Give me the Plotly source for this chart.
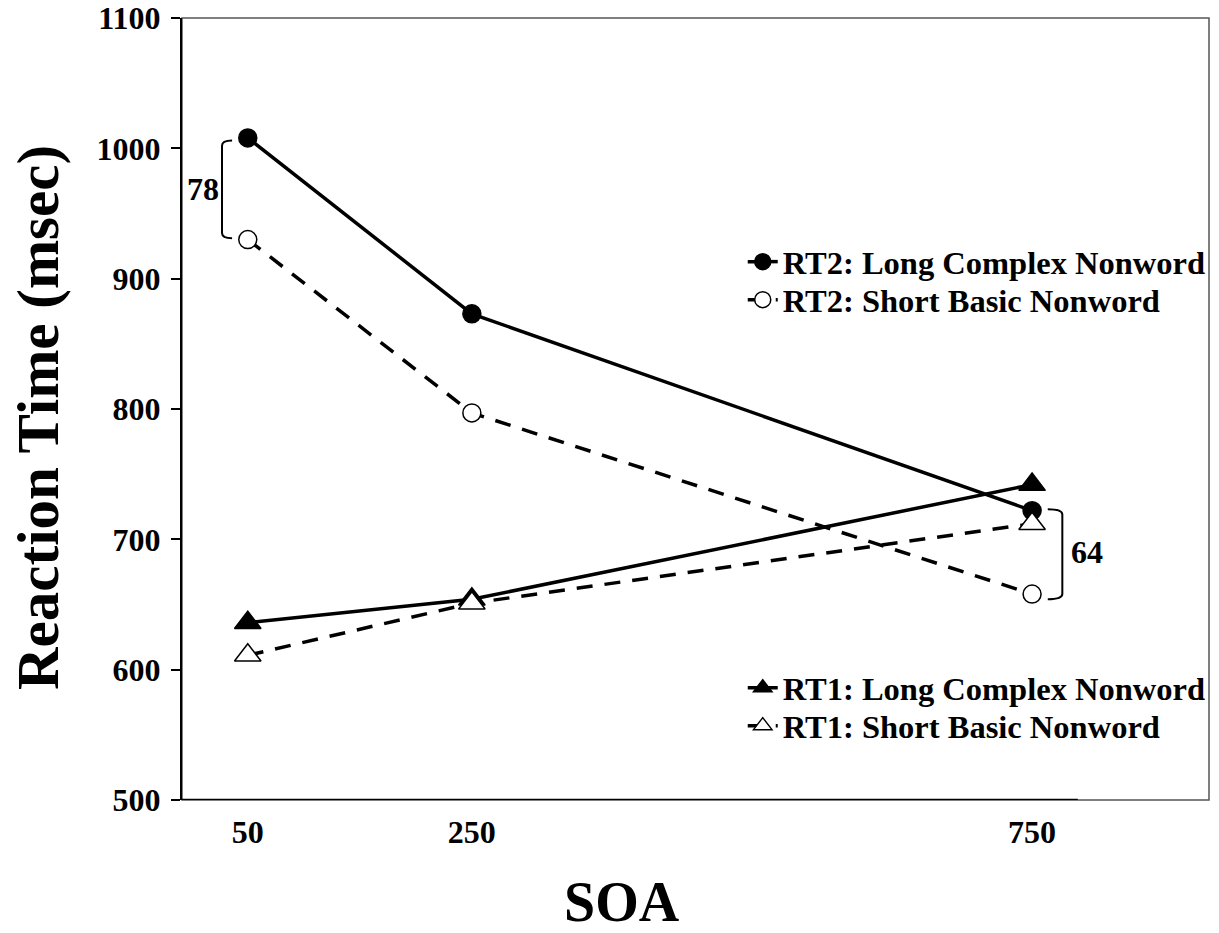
import plotly.graph_objects as go

# SOA conditions (msec) and mean reaction times (msec)
soa = [50, 250, 750]
soa_labels = ["50", "250", "750"]

rt2_long = [1008, 873, 722]
rt2_short = [930, 797, 658]
rt1_long = [636, 654, 742]
rt1_short = [611, 651, 712]

y_ticks = [500, 600, 700, 800, 900, 1000, 1100]

FONT = "Liberation Serif"
DASH = "16px,12px"

# plot area in pixels (used to place legends and titles)
TOP, BOTTOM = 18, 800
LEFT, RIGHT = 182, 1209


def paper_y(px):
    return 1 - (px - TOP) / (BOTTOM - TOP)


fig = go.Figure()

series = [
    ("RT2: Long Complex Nonword", rt2_long, "solid", "circle", "black", 18, "legend", 262),
    ("RT2: Short Basic Nonword", rt2_short, DASH, "circle", "white", 18, "legend2", 300),
    ("RT1: Long Complex Nonword", rt1_long, "solid", "triangle-up", "black", 23, "legend3", 688),
    ("RT1: Short Basic Nonword", rt1_short, DASH, "triangle-up", "white", 23, "legend4", 726),
]

for name, vals, dash, symbol, fill, size, leg, _ in series:
    fig.add_trace(go.Scatter(
        x=soa, y=vals, name=name, mode="lines+markers",
        line=dict(color="black", width=3.5, dash=dash),
        marker=dict(symbol=symbol, size=size, color=fill,
                    line=dict(color="black", width=1.5)),
        legend=leg, hoverinfo="x+y+name",
    ))

# Difference brackets: RT2 long vs short at 50 and 750 msec SOA
d50 = rt2_long[0] - rt2_short[0]
d750 = rt2_long[2] - rt2_short[2]

fig.add_shape(type="path", xref="x", yref="y",
              path=(f"M 36,{rt2_long[0] - 2} Q 27,{rt2_long[0] - 2} 27,{rt2_long[0] - 6} "
                    f"L 27,{rt2_short[0] + 5} Q 27,{rt2_short[0] + 1} 36,{rt2_short[0] + 1}"),
              line=dict(color="black", width=2))
fig.add_annotation(x=10, y=(rt2_long[0] + rt2_short[0]) / 2, xref="x", yref="y",
                   text=f"<b>{d50}</b>", showarrow=False,
                   font=dict(family=FONT, size=32, color="black"))

fig.add_shape(type="path", xref="x", yref="y",
              path=(f"M 764,{rt2_long[2] + 1} Q 777,{rt2_long[2] + 1} 777,{rt2_long[2] - 3} "
                    f"L 777,{rt2_short[2] + 0} Q 777,{rt2_short[2] - 4} 764,{rt2_short[2] - 4}"),
              line=dict(color="black", width=2))
fig.add_annotation(x=799, y=(rt2_long[2] + rt2_short[2]) / 2, xref="x", yref="y",
                   text=f"<b>{d750}</b>", showarrow=False,
                   font=dict(family=FONT, size=32, color="black"))

# Plot frame and the partial x axis line
fig.add_shape(type="rect", xref="paper", yref="paper", x0=0, x1=1, y0=0, y1=1,
              line=dict(color="#555555", width=1.5), layer="below")
fig.add_shape(type="line", xref="x", yref="y", x0=-8.7, x1=790.8, y0=500, y1=500,
              line=dict(color="black", width=2.5))

# Axis titles
fig.add_annotation(text="<b>Reaction Time (msec)</b>", xref="paper", yref="paper",
                   x=0, y=paper_y(418), xshift=-144, textangle=-90, showarrow=False,
                   xanchor="center", yanchor="middle",
                   font=dict(family=FONT, size=59, color="black"))
fig.add_annotation(text="<b>SOA</b>", xref="paper", yref="paper",
                   x=(622 - LEFT) / (RIGHT - LEFT), y=0, yshift=-102, showarrow=False,
                   xanchor="center", yanchor="middle",
                   font=dict(family=FONT, size=56, color="black"))

legend_style = dict(font=dict(family=FONT, size=32.5, color="black", weight="bold"),
                    bgcolor="rgba(0,0,0,0)", xanchor="left", yanchor="middle",
                    itemclick=False, x=0.546)

legends = {leg: dict(y=paper_y(ypx), **legend_style) for *_, leg, ypx in series}

tick_font = dict(family=FONT, size=32, color="black", weight="bold")

fig.update_layout(
    width=1219, height=933, autosize=False,
    margin=dict(l=LEFT, r=1219 - RIGHT, t=TOP, b=933 - BOTTOM, pad=0, autoexpand=False),
    paper_bgcolor="white", plot_bgcolor="white",
    xaxis=dict(range=[-8.7, 907.9], tickvals=soa, ticktext=soa_labels,
               showgrid=False, zeroline=False, showline=False, ticks="",
               automargin=False, ticklabelstandoff=10, tickfont=tick_font),
    yaxis=dict(range=[500, 1100], tickvals=y_ticks, showgrid=False, zeroline=False,
               showline=True, linecolor="black", linewidth=2,
               ticks="outside", ticklen=9, tickwidth=1.5, tickcolor="black",
               automargin=False, ticklabelstandoff=4, tickfont=tick_font),
    showlegend=True,
    **legends,
)

fig.write_html("out.html")
